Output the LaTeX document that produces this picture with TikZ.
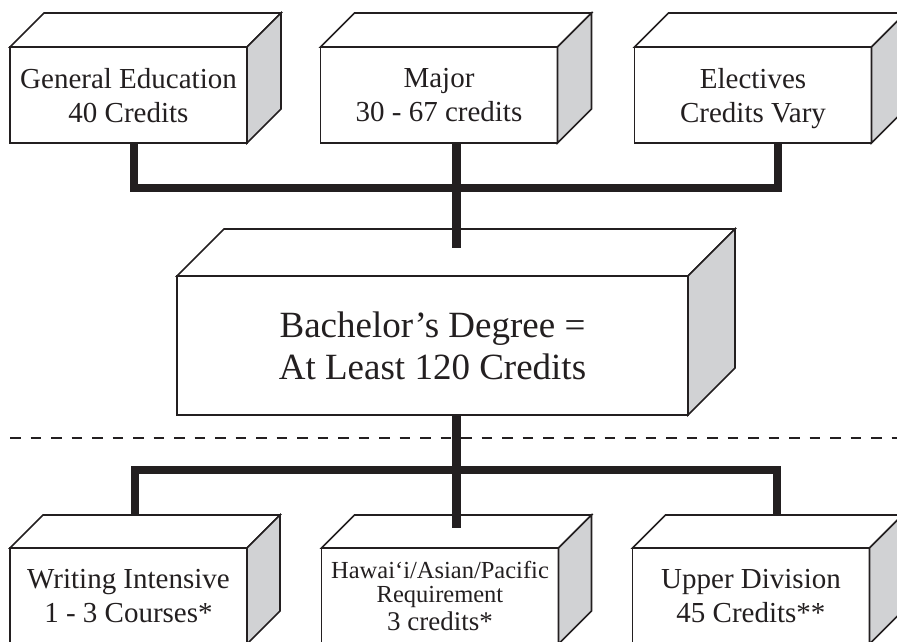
\documentclass[tikz,border=0pt]{standalone}
\usepackage{fontspec}
\setmainfont{Liberation Serif}
\definecolor{ink}{HTML}{231F20}
\definecolor{sidegray}{HTML}{D1D2D4}
\newcommand\drawdepth[2]{%
  \draw[edge3d, fill=white] (#1.north west) -- ++(#2,-#2) -- ([shift={(#2,-#2)}]#1.north east) -- (#1.north east) -- cycle;
  \draw[edge3d, fill=sidegray] (#1.north east) -- ([shift={(#2,-#2)}]#1.north east) -- ([shift={(#2,-#2)}]#1.south east) -- (#1.south east) -- cycle;}
\begin{document}
\begin{tikzpicture}[x=1pt,y=-1pt,
  face/.style={draw=ink, line width=1.6pt, fill=white, rectangle, minimum width=237pt, minimum height=96pt, inner sep=0pt, outer sep=0pt, align=center, text=ink, text depth=0pt, font=\fontsize{29}{34}\selectfont, line join=miter},
  bigface/.style={face, minimum width=511pt, minimum height=139pt, font=\fontsize{37}{42}\selectfont},
  edge3d/.style={draw=ink, line width=1.6pt, line join=miter},
  bar/.style={draw=ink, line width=8.5pt, line join=miter},
  divider/.style={draw=ink, line width=2.6pt, dash pattern=on 10.5pt off 10pt}
]
\useasboundingbox (0,0) rectangle (897,642);
\clip (0,0) rectangle (897,642);
% top row
\node[face] (ge) at (128.5,95) {General Education\\40 Credits};
\drawdepth{ge}{34}
\node[face] (maj) at (439,95) {Major\\30 - 67 credits};
\drawdepth{maj}{34}
\node[face] (ele) at (753,95) {Electives\\Credits Vary};
\drawdepth{ele}{34}
% centre
\node[bigface] (bach) at (432.5,345.5) {Bachelor’s Degree =\\At Least 120 Credits};
\drawdepth{bach}{47}
% bottom row
\node[face] (wi) at (128.5,596) {Writing Intensive\\1 - 3 Courses*};
\drawdepth{wi}{33}
\node[face, font=\fontsize{24.5}{24}\selectfont] (hap) at (440,596) {Hawai‘i/Asian/Pacific\\Requirement\\[4pt]{\fontsize{27}{27}\selectfont 3 credits*}};
\drawdepth{hap}{33}
\node[face] (ud) at (751,596) {Upper Division\\45 Credits**};
\drawdepth{ud}{33}
% connection points
\coordinate (ge-out) at ([xshift=5.5pt]ge.south);
\coordinate (maj-out) at ([xshift=17.5pt]maj.south);
\coordinate (ele-out) at ([xshift=25pt]ele.south);
\coordinate (topjoin) at (456.5,188);
\coordinate (bach-in) at ([xshift=24pt,yshift=28pt]bach.north);
\coordinate (bach-out) at ([xshift=24pt]bach.south);
\coordinate (botjoin) at (456.5,470);
\coordinate (wi-in) at ([xshift=6.5pt,yshift=33pt]wi.north);
\coordinate (hap-in) at ([xshift=16.5pt,yshift=20pt]hap.north);
\coordinate (ud-in) at ([xshift=26pt,yshift=33pt]ud.north);
\coordinate (divL) at (10,438);
\coordinate (divR) at (910,438);
% divider
\draw[divider] (divL) -- (divR);
% connectors
\draw[bar] (ge-out) |- (topjoin) -| (ele-out);
\draw[bar] (maj-out) -- (bach-in);
\draw[bar] (wi-in) |- (botjoin) -| (ud-in);
\draw[bar] (bach-out) -- (hap-in);
\end{tikzpicture}
\end{document}
